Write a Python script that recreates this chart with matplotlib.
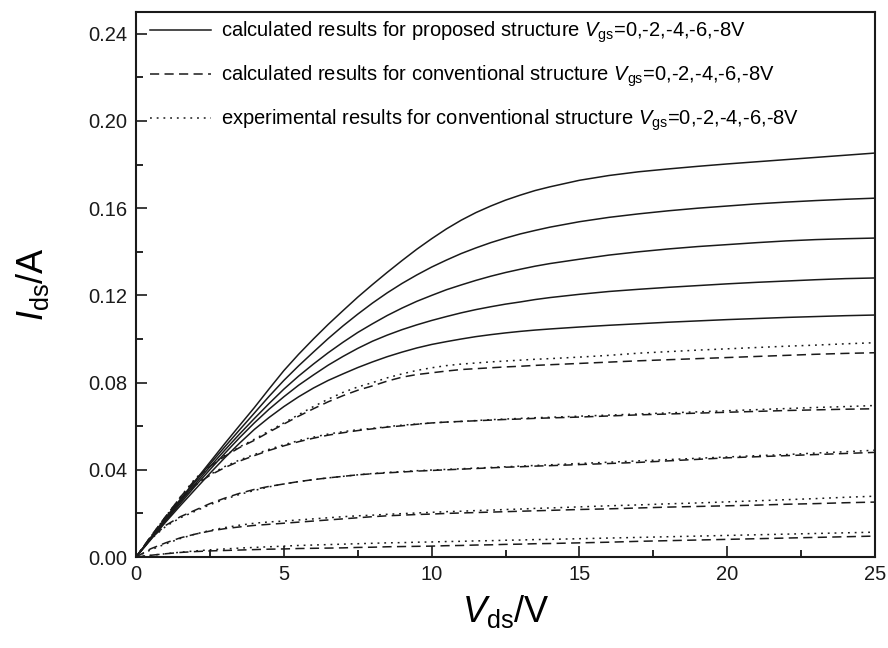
import matplotlib
matplotlib.use("Agg")
import matplotlib.pyplot as plt

plt.rcParams['font.family'] = ['Liberation Sans', 'DejaVu Sans']
plt.rcParams['mathtext.fontset'] = 'custom'
plt.rcParams['mathtext.rm'] = 'Liberation Sans'
plt.rcParams['mathtext.it'] = 'Liberation Sans:italic'

vds = [0, 0.5, 1, 1.5, 2, 2.5, 3, 3.5, 4, 4.5, 5, 5.5, 6, 6.5, 7, 7.5, 8, 8.5, 9, 9.5,
       10, 10.5, 11, 11.5, 12, 12.5, 13, 13.5, 14, 15, 16, 17, 18, 19, 20, 21, 22, 23, 24, 25]

# calculated, proposed structure (Vgs = 0, -2, -4, -6, -8 V)
prop_0 = [0, 0.009, 0.018, 0.0265, 0.035, 0.0435, 0.052, 0.0603, 0.0685, 0.0771, 0.0855, 0.0930, 0.100, 0.1067, 0.113, 0.1192, 0.125, 0.1306, 0.136, 0.1412, 0.146, 0.1505, 0.1545, 0.1580, 0.161, 0.1637, 0.166, 0.1681, 0.1698, 0.1728, 0.175, 0.1767, 0.178, 0.1792, 0.1803, 0.1813, 0.1823, 0.1833, 0.1843, 0.1853]
prop_2 = [0, 0.0088, 0.0175, 0.0261, 0.0345, 0.0426, 0.0505, 0.0583, 0.066, 0.0737, 0.081, 0.0877, 0.094, 0.1002, 0.106, 0.1114, 0.1165, 0.1212, 0.1255, 0.1294, 0.1330, 0.1362, 0.1392, 0.1418, 0.1442, 0.1463, 0.1482, 0.1498, 0.1513, 0.1538, 0.1558, 0.1574, 0.1588, 0.160, 0.161, 0.162, 0.1628, 0.1635, 0.1641, 0.1646]
prop_4 = [0, 0.0085, 0.017, 0.0254, 0.0335, 0.0414, 0.049, 0.0564, 0.0635, 0.0704, 0.077, 0.0830, 0.0885, 0.0937, 0.0985, 0.1030, 0.1070, 0.1108, 0.1142, 0.1173, 0.1200, 0.1226, 0.1248, 0.1269, 0.1288, 0.1305, 0.1320, 0.1334, 0.1346, 0.1366, 0.1385, 0.1400, 0.1413, 0.1424, 0.1433, 0.1442, 0.145, 0.1456, 0.146, 0.1463]
prop_6 = [0, 0.0083, 0.0165, 0.0246, 0.0325, 0.0401, 0.0475, 0.0547, 0.0615, 0.0678, 0.0735, 0.0788, 0.0835, 0.0880, 0.0920, 0.0957, 0.0990, 0.1018, 0.1043, 0.1065, 0.1085, 0.1103, 0.1120, 0.1135, 0.1148, 0.1160, 0.117, 0.1181, 0.119, 0.1205, 0.1218, 0.1228, 0.1237, 0.1245, 0.1253, 0.126, 0.1266, 0.1272, 0.1277, 0.128]
prop_8 = [0, 0.008, 0.016, 0.0236, 0.031, 0.0384, 0.0455, 0.0522, 0.0585, 0.0640, 0.069, 0.0735, 0.0775, 0.0810, 0.084, 0.0869, 0.0895, 0.0919, 0.094, 0.0959, 0.0975, 0.0988, 0.100, 0.1011, 0.102, 0.1028, 0.1035, 0.1041, 0.1046, 0.1055, 0.1063, 0.107, 0.1077, 0.1083, 0.1089, 0.1094, 0.1099, 0.1103, 0.1107, 0.111]

# calculated, conventional structure
conv_0 = [0, 0.0093, 0.0185, 0.0275, 0.0355, 0.0415, 0.0462, 0.0502, 0.0535, 0.0573, 0.061, 0.0646, 0.068, 0.0712, 0.074, 0.0765, 0.0785, 0.0807, 0.0825, 0.0837, 0.0845, 0.0853, 0.086, 0.0864, 0.0868, 0.0872, 0.0875, 0.0879, 0.0882, 0.0888, 0.0894, 0.090, 0.0905, 0.091, 0.0915, 0.092, 0.0925, 0.093, 0.0934, 0.0937]
conv_2 = [0, 0.0095, 0.0185, 0.0265, 0.033, 0.0375, 0.041, 0.0440, 0.0465, 0.0489, 0.051, 0.0529, 0.0545, 0.0559, 0.057, 0.0580, 0.0588, 0.0596, 0.0602, 0.0609, 0.0615, 0.0619, 0.0622, 0.0625, 0.0628, 0.0631, 0.0633, 0.0636, 0.0638, 0.0642, 0.0647, 0.0652, 0.0656, 0.066, 0.0664, 0.0668, 0.0672, 0.0675, 0.0678, 0.068]
conv_4 = [0, 0.0085, 0.0145, 0.0185, 0.0215, 0.0245, 0.027, 0.0292, 0.031, 0.0324, 0.0335, 0.0346, 0.0355, 0.0363, 0.037, 0.0377, 0.0382, 0.0386, 0.039, 0.0394, 0.0397, 0.0400, 0.0403, 0.0406, 0.0409, 0.0412, 0.0414, 0.0417, 0.0419, 0.0424, 0.0429, 0.0434, 0.0441, 0.0448, 0.0455, 0.046, 0.0465, 0.047, 0.0475, 0.048]
conv_6 = [0, 0.0038, 0.0065, 0.0088, 0.0105, 0.0119, 0.013, 0.0138, 0.0145, 0.015, 0.0155, 0.016, 0.0165, 0.017, 0.0175, 0.018, 0.0185, 0.0189, 0.0192, 0.0195, 0.0197, 0.02, 0.0202, 0.0204, 0.0206, 0.0208, 0.021, 0.0212, 0.0214, 0.0218, 0.0221, 0.0225, 0.0229, 0.0232, 0.0235, 0.0238, 0.0242, 0.0245, 0.0249, 0.0252]
conv_8 = [0, 0.0008, 0.0015, 0.0021, 0.0025, 0.0028, 0.003, 0.0032, 0.0034, 0.0036, 0.0037, 0.0039, 0.004, 0.0041, 0.0042, 0.0044, 0.0045, 0.0047, 0.0048, 0.0049, 0.005, 0.0052, 0.0053, 0.0055, 0.0056, 0.0058, 0.0059, 0.0061, 0.0062, 0.0065, 0.0068, 0.0072, 0.0075, 0.0078, 0.0081, 0.0084, 0.0087, 0.009, 0.0093, 0.0096]

# experimental, conventional structure
exp_0 = [0, 0.0093, 0.0185, 0.0275, 0.036, 0.0418, 0.0465, 0.0505, 0.054, 0.0578, 0.0615, 0.0653, 0.069, 0.0724, 0.0755, 0.0780, 0.080, 0.0822, 0.084, 0.0856, 0.0868, 0.0878, 0.0885, 0.0890, 0.0895, 0.0899, 0.0903, 0.0907, 0.091, 0.0917, 0.0925, 0.0935, 0.0942, 0.0949, 0.0955, 0.0961, 0.0967, 0.0972, 0.0978, 0.0983]
exp_2 = [0, 0.0092, 0.018, 0.0262, 0.033, 0.0378, 0.0415, 0.0445, 0.047, 0.0494, 0.0515, 0.0534, 0.055, 0.0564, 0.0575, 0.0584, 0.059, 0.0598, 0.0605, 0.0610, 0.0615, 0.0619, 0.0622, 0.0626, 0.063, 0.0633, 0.0636, 0.0639, 0.0641, 0.0646, 0.0651, 0.0656, 0.0661, 0.0666, 0.0671, 0.0676, 0.0681, 0.0686, 0.069, 0.0695]
exp_4 = [0, 0.0082, 0.014, 0.018, 0.021, 0.024, 0.0265, 0.0287, 0.0305, 0.0322, 0.0335, 0.0346, 0.0355, 0.0363, 0.037, 0.0377, 0.0383, 0.0388, 0.0392, 0.0396, 0.0399, 0.0402, 0.0405, 0.0408, 0.0411, 0.0414, 0.0417, 0.042, 0.0423, 0.0429, 0.0435, 0.0441, 0.0447, 0.0453, 0.0459, 0.0465, 0.047, 0.0477, 0.0483, 0.049]
exp_6 = [0, 0.0033, 0.006, 0.0085, 0.0105, 0.0122, 0.0135, 0.0146, 0.0155, 0.0161, 0.0165, 0.017, 0.0175, 0.018, 0.0185, 0.0189, 0.0192, 0.0196, 0.0199, 0.0202, 0.0205, 0.0208, 0.021, 0.0213, 0.0215, 0.0218, 0.022, 0.0223, 0.0225, 0.023, 0.0235, 0.0239, 0.0244, 0.0248, 0.0253, 0.0258, 0.0263, 0.0268, 0.0274, 0.0279]
exp_8 = [0, 0.0008, 0.0015, 0.0022, 0.0028, 0.0033, 0.0037, 0.0041, 0.0044, 0.0047, 0.005, 0.0053, 0.0055, 0.0057, 0.0059, 0.0061, 0.0063, 0.0065, 0.0066, 0.0068, 0.0069, 0.0071, 0.0072, 0.0074, 0.0075, 0.0077, 0.0078, 0.008, 0.0081, 0.0084, 0.0087, 0.009, 0.0093, 0.0096, 0.0099, 0.0102, 0.0105, 0.0108, 0.0111, 0.0114]

prop_series = [prop_0, prop_2, prop_4, prop_6, prop_8]
conv_series = [conv_0, conv_2, conv_4, conv_6, conv_8]
exp_series = [exp_0, exp_2, exp_4, exp_6, exp_8]

labels = [
    r'calculated results for proposed structure $\mathit{V}_{\mathrm{gs}}$=0,-2,-4,-6,-8V',
    r'calculated results for conventional structure $\mathit{V}_{\mathrm{gs}}$=0,-2,-4,-6,-8V',
    r'experimental results for conventional structure $\mathit{V}_{\mathrm{gs}}$=0,-2,-4,-6,-8V',
]

fig = plt.figure(figsize=(8.88, 6.48), dpi=100)
ax = fig.add_axes([0.1532, 0.1404, 0.8322, 0.8411])

col = '#1a1a1a'
for i, s in enumerate(prop_series):
    ax.plot(vds, s, color=col, lw=1.1, ls='-', solid_joinstyle='round',
            label=labels[0] if i == 0 else None)
for i, s in enumerate(conv_series):
    ax.plot(vds, s, color=col, lw=1.1, ls=(0, (6, 3.5)),
            label=labels[1] if i == 0 else None)
for i, s in enumerate(exp_series):
    ax.plot(vds, s, color=col, lw=1.1, ls=(0, (1.2, 3.2)),
            label=labels[2] if i == 0 else None)

ax.set_xlim(0, 25)
ax.set_ylim(0, 0.25)
ax.set_xticks([0, 5, 10, 15, 20, 25])
ax.set_xticks([2.5, 7.5, 12.5, 17.5, 22.5], minor=True)
ax.set_yticks([0.00, 0.04, 0.08, 0.12, 0.16, 0.20, 0.24])
ax.set_yticks([0.02, 0.06, 0.10, 0.14, 0.18, 0.22], minor=True)
ax.set_yticklabels(['0.00', '0.04', '0.08', '0.12', '0.16', '0.20', '0.24'])
ax.tick_params(which='major', direction='in', length=8, width=1.2, labelsize=14.5, pad=6, colors='#1a1a1a')
ax.tick_params(which='minor', direction='in', length=5, width=1.2)
for sp in ax.spines.values():
    sp.set_linewidth(1.5)
    sp.set_color('#1a1a1a')

ax.set_xlabel(r'$\mathit{V}_{\mathrm{ds}}$/V', fontsize=26, labelpad=6)
ax.set_ylabel(r'$\mathit{I}_{\mathrm{ds}}$/A', fontsize=26, labelpad=27)

leg = ax.legend(loc='upper left', bbox_to_anchor=(0.0, 1.012), frameon=False, fontsize=14.5,
                handlelength=3.0, handletextpad=0.5, labelspacing=0.92, borderaxespad=0.3)

fig.savefig('out.png', dpi=100)
